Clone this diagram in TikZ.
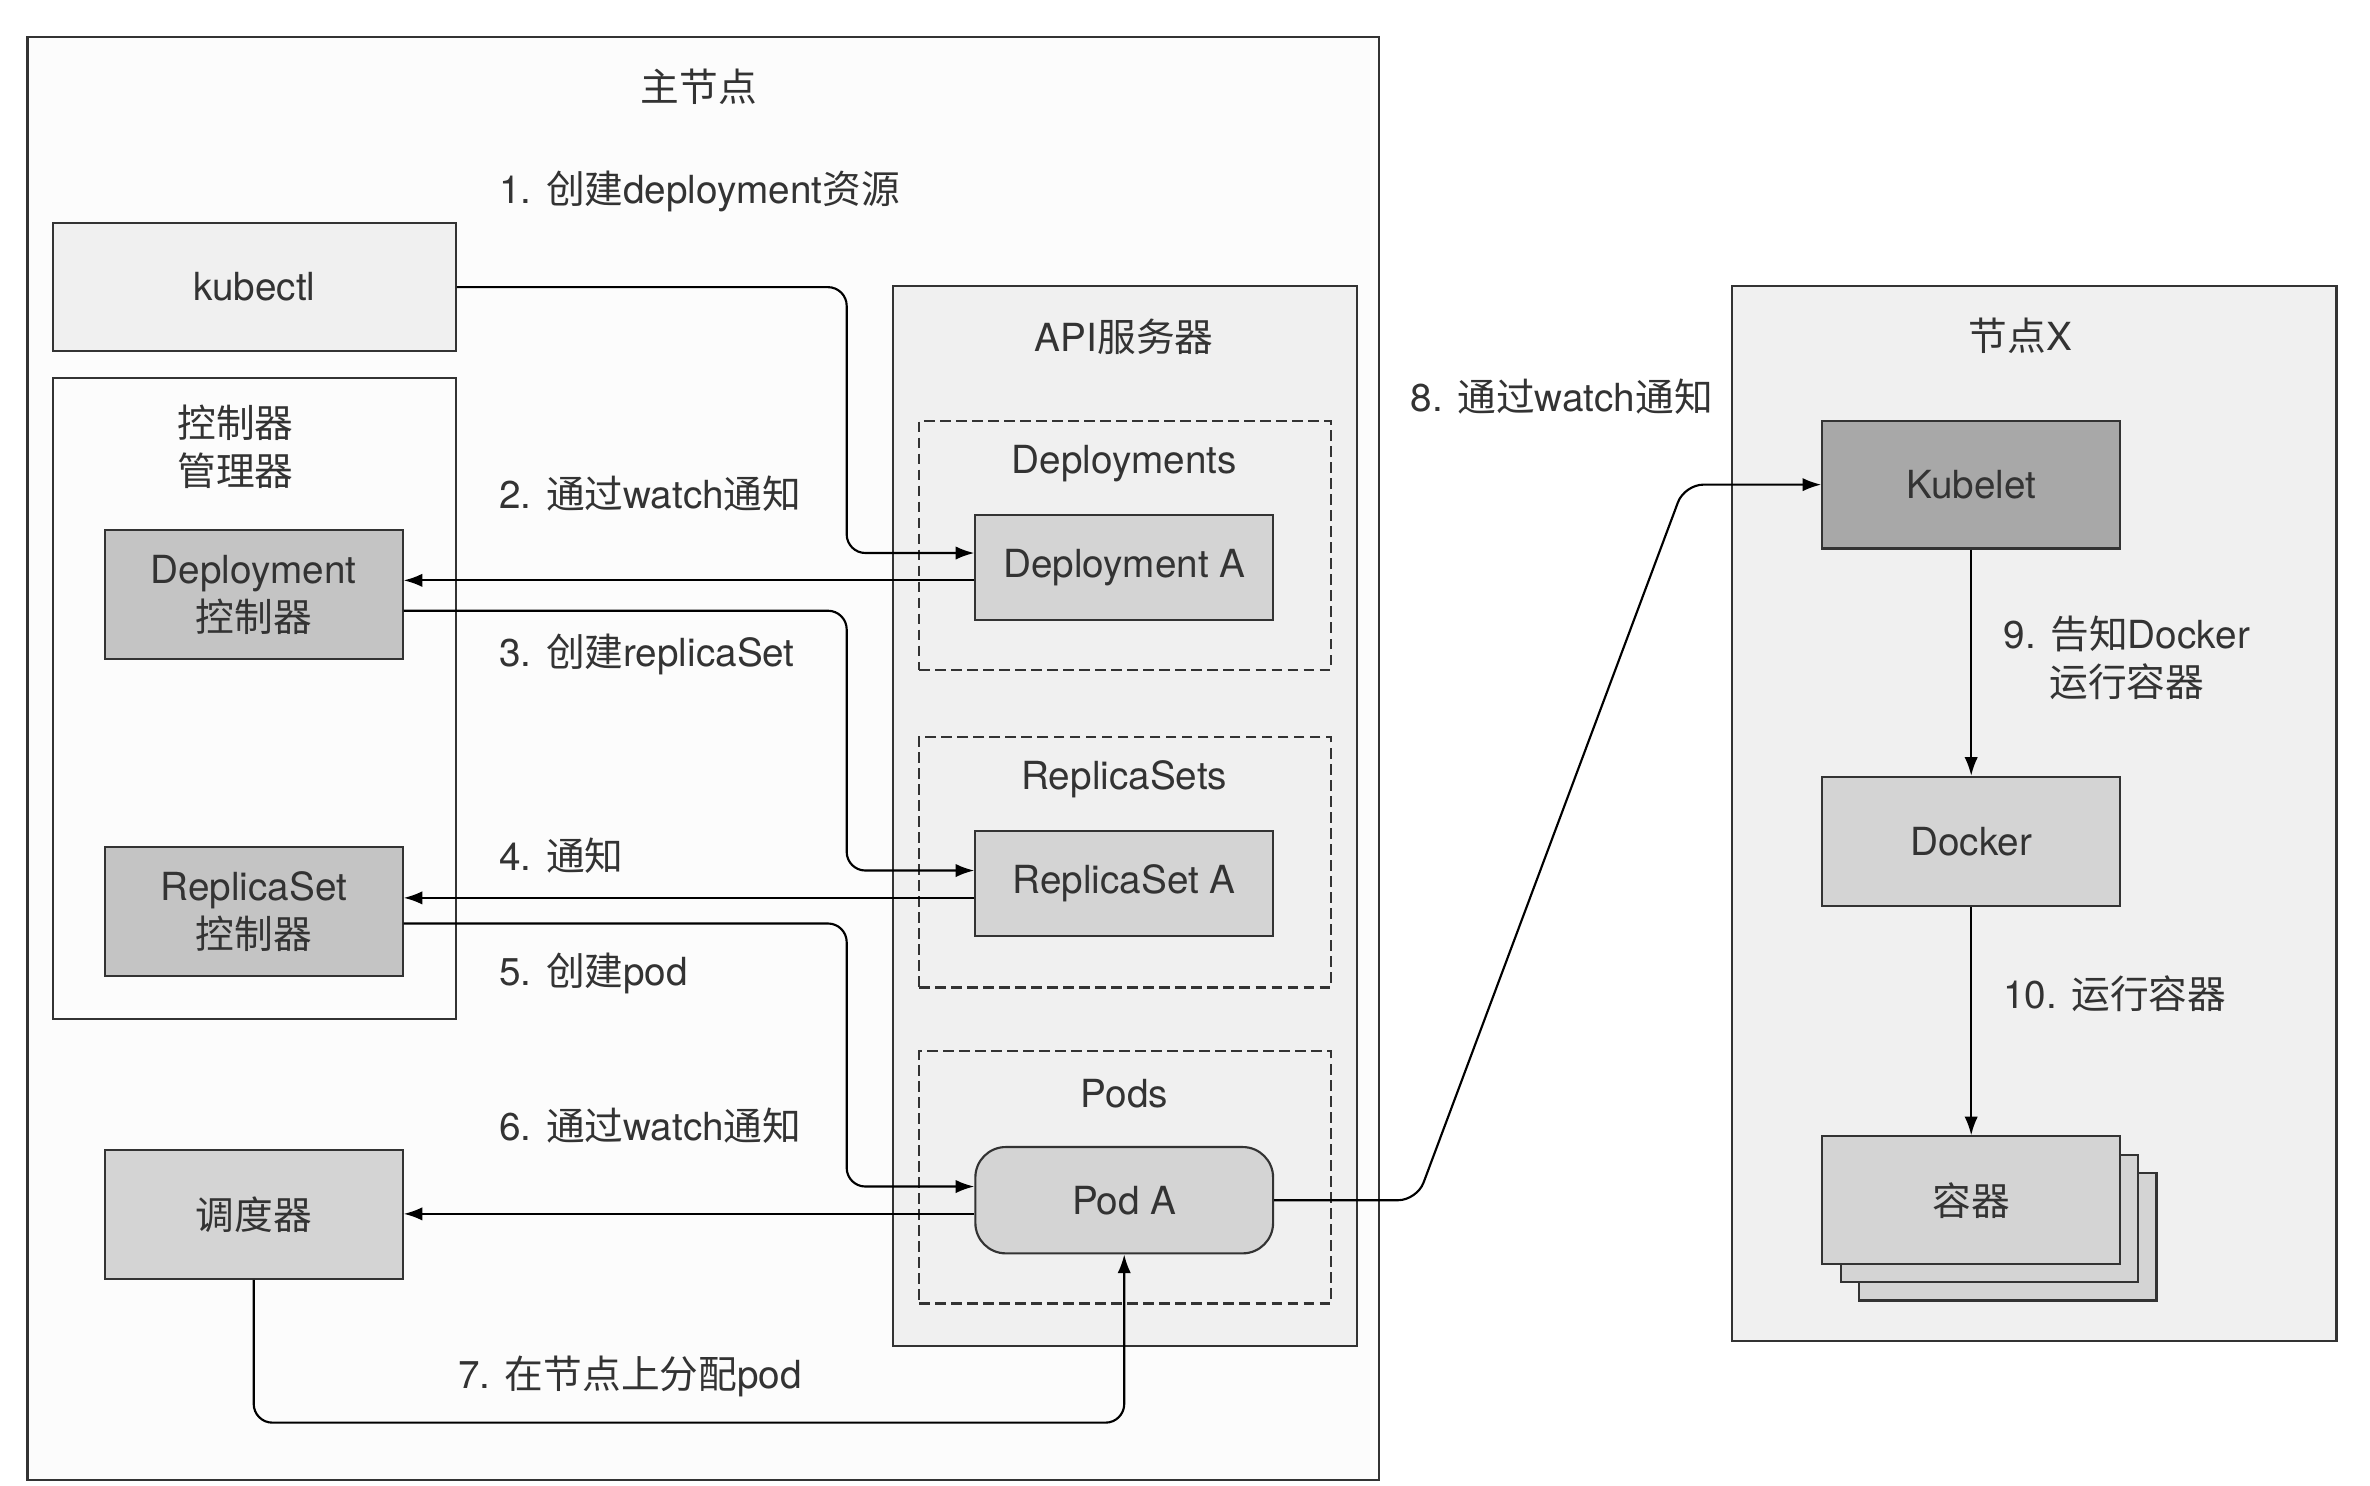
\documentclass[tikz,border=0pt]{standalone}
\usepackage{fontspec}
\setmainfont{TeX Gyre Heros}
\newfontfamily\zh{Noto Sans CJK SC}
\newcommand{\cn}[1]{{\zh #1}}
\usetikzlibrary{calc, arrows.meta, positioning}

\definecolor{ink}{HTML}{333333}
\definecolor{panel}{HTML}{F0F0F0}
\definecolor{paper}{HTML}{FCFCFC}
\definecolor{midgray}{HTML}{D4D4D4}
\definecolor{ctrlgray}{HTML}{C4C4C4}
\definecolor{darkgray}{HTML}{A8A8A8}

\tikzset{
  frame/.style={draw=ink, inner sep=0pt},
  group/.style={draw=ink, dash pattern=on 4pt off 2pt, fill=panel, inner sep=0pt, minimum width=5.42cm},
  box/.style={draw=ink, text=ink, align=center, inner sep=0pt, minimum width=3.92cm, minimum height=1.7cm},
  step label/.style={text=ink, anchor=west, inner sep=0pt},
  title/.style={text=ink, align=center, inner sep=0pt}
}

\begin{document}
\begin{tikzpicture}[x=0.02cm, y=-0.02cm, >={Latex[length=7pt,width=5pt]}, line width=0.8pt,
  font=\fontsize{14.5}{18}\selectfont]
  \useasboundingbox (0,0) rectangle (1560,978);

  % master node
  \node[frame, fill=paper, minimum width=17.8cm, minimum height=19cm] (master) at (463,499) {};
  \node[title] (masterT) at (460,57) {\cn{主节点}};

  \node[box, fill=panel, minimum width=5.3cm, minimum height=1.68cm] (kubectl) at (167.5,189) {kubectl};
  \node[frame, fill=paper, minimum width=5.3cm, minimum height=8.44cm] (ctrlmgr) at (167.5,460) {};
  \node[title] (ctrlmgrT) at (155,294) {\cn{控制器}\\\cn{管理器}};
  \node[box, fill=ctrlgray] (deployctrl) at (167,391.5) {Deployment\\\cn{控制器}};
  \node[box, fill=ctrlgray] (rsctrl) [below=2.44cm of deployctrl] {ReplicaSet\\\cn{控制器}};
  \node[box, fill=midgray] (sched) [below=2.26cm of rsctrl] {\cn{调度器}};

  % API server
  \node[frame, fill=panel, minimum width=6.1cm, minimum height=13.96cm] (api) at (740.5,537) {};
  \node[title] (apiT) at (740,222) {API\cn{服务器}};
  \node[group, minimum height=3.28cm] (deps) at (740.5,359) {};
  \node[group, minimum height=3.3cm] (rss) at (740.5,567.5) {};
  \node[group, minimum height=3.32cm] (pods) at (740.5,775) {};
  \node[title] (depsT) at (740,305) {Deployments};
  \node[title] (rssT) at (740,513) {ReplicaSets};
  \node[title] (podsT) at (740,720) {Pods};
  \node[box, fill=midgray, minimum height=1.38cm] (depA) at (740,373.5) {Deployment A};
  \node[box, fill=midgray, minimum height=1.38cm] (rsA) at (740,581.5) {ReplicaSet A};
  \node[box, fill=midgray, minimum height=1.4cm, rounded corners=0.4cm] (podA) at (740,790) {Pod A};

  % worker node
  \node[frame, fill=panel, minimum width=7.96cm, minimum height=13.9cm] (nodeX) at (1339,535.5) {};
  \node[title] (nodeXT) at (1330,221) {\cn{节点}X};
  \node[box, fill=darkgray, minimum height=1.68cm] (kubelet) at (1297.5,319) {Kubelet};
  \node[box, fill=midgray] (docker) [below=2.98cm of kubelet] {Docker};
  \node[box, fill=midgray, minimum height=1.68cm] (ctr3) at (1321.5,814) {};
  \node[box, fill=midgray, minimum height=1.68cm] (ctr2) at (1309.5,802) {};
  \node[box, fill=midgray, minimum height=1.68cm] (ctr) at (1297.5,790) {\cn{容器}};

  % connectors
  \draw[->, rounded corners=7pt] (kubectl.east) -| ($(depA.west)+(-84,-9.5)$) -- ($(depA.west)+(0,-9.5)$);
  \draw[->] ($(depA.west)+(0,8.5)$) coordinate (n2) -- (n2 -| deployctrl.east);
  \draw[->, rounded corners=7pt] ($(deployctrl.east)+(0,10.5)$) -| ($(rsA.west)+(-84,-8.5)$) -- ($(rsA.west)+(0,-8.5)$);
  \draw[->] ($(rsA.west)+(0,9.5)$) coordinate (n4) -- (n4 -| rsctrl.east);
  \draw[->, rounded corners=7pt] ($(rsctrl.east)+(0,8)$) -| ($(podA.west)+(-84,-9)$) -- ($(podA.west)+(0,-9)$);
  \draw[->] ($(podA.west)+(0,9)$) coordinate (n6) -- (n6 -| sched.east);
  \draw[->, rounded corners=7pt] (sched.south) -- ++(0,94) -| (podA.south);
  \draw[->, rounded corners=7pt] (podA.east) -- ++(94,0) -- ($(kubelet.west)+(-90,0)$) -- (kubelet.west);
  \draw[->] (kubelet.south) -- (docker.north);
  \draw[->] (docker.south) -- (ctr.north);

  % step labels
  \node[step label] (l1) at (328,126) {1. \cn{创建}deployment\cn{资源}};
  \node[step label] (l2) at (328,325) {2. \cn{通过}watch\cn{通知}};
  \node[step label] (l3) at (328,431) {3. \cn{创建}replicaSet};
  \node[step label] (l4) at (328,563) {4. \cn{通知}};
  \node[step label] (l5) at (328,641) {5. \cn{创建}pod};
  \node[step label] (l6) at (328,741) {6. \cn{通过}watch\cn{通知}};
  \node[step label] (l7) at (301,906) {7. \cn{在节点上分配}pod};
  \node[step label] (l8) at (928,261) {8. \cn{通过}watch\cn{通知}};
  \node[title] (l9) at (1400,433) {9. \cn{告知}Docker\\\cn{运行容器}};
  \node[step label] (l10) at (1318,654) {10. \cn{运行容器}};
\end{tikzpicture}
\end{document}
